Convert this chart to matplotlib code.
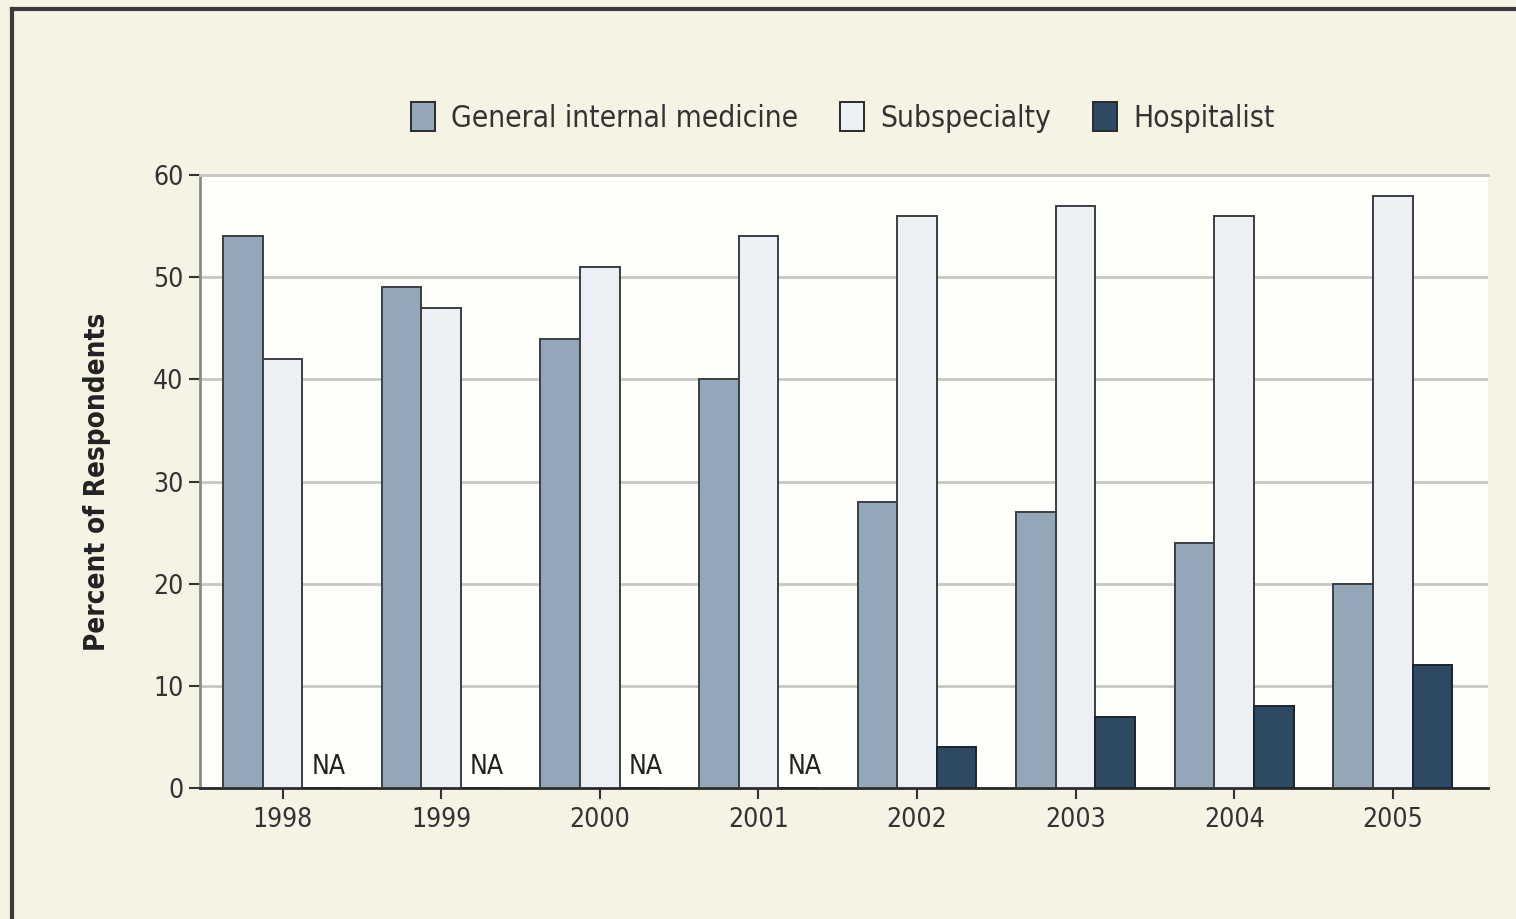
import numpy as np
import matplotlib.pyplot as plt
from matplotlib.lines import Line2D

years = ['1998', '1999', '2000', '2001', '2002', '2003', '2004', '2005']
general = [54, 49, 44, 40, 28, 27, 24, 20]
subspecialty = [42, 47, 51, 54, 56, 57, 56, 58]
hospitalist = [None, None, None, None, 4, 7, 8, 12]

plt.rcParams['font.family'] = ['DejaVu Sans']
plt.rcParams['font.stretch'] = 'condensed'

fig = plt.figure(figsize=(15.16, 9.19), dpi=100)
fig.patch.set_facecolor('#f5f3e4')
ax = fig.add_axes([0.132, 0.1425, 0.8495, 0.667])
ax.set_facecolor('#fefefa')

x = np.arange(len(years))
w = 0.25
ax.bar(x - w, general, w, color='#93a7b8', edgecolor='#3a3f44', linewidth=1.4, label='General internal medicine', zorder=3)
ax.bar(x, subspecialty, w, color='#eceff3', edgecolor='#3a3f44', linewidth=1.4, label='Subspecialty', zorder=3)
hosp_vals = [v if v is not None else 0 for v in hospitalist]
ax.bar(x + w, hosp_vals, w, color='#2e4a62', edgecolor='#1a2530', linewidth=1.4, label='Hospitalist', zorder=3)
for i, v in enumerate(hospitalist):
    if v is None:
        ax.text(x[i] + w + 0.04, 0.8, 'NA', ha='center', va='bottom', fontsize=19, color='#222222', zorder=4)

ax.set_xlim(-0.52, 7.6)
ax.set_ylim(0, 60)
ax.set_yticks(range(0, 61, 10))
ax.set_xticks(x)
ax.set_xticklabels(years)
ax.yaxis.grid(True, color='#c8c8c2', linewidth=2, zorder=0)
ax.tick_params(axis='both', labelsize=19, colors='#333333', length=8, width=1.5, direction='out')
ax.tick_params(axis='y', pad=4)
ax.tick_params(axis='x', pad=6)
ax.spines['right'].set_visible(False)
ax.spines['top'].set_color('#c8c8c2')
ax.spines['top'].set_linewidth(2)
ax.spines['left'].set_color('#8a8a86')
ax.spines['left'].set_linewidth(2)
ax.spines['bottom'].set_color('#2a2a2a')
ax.spines['bottom'].set_linewidth(2)
ax.set_ylabel('Percent of Respondents', fontsize=20, fontweight='bold', color='#222222', labelpad=30)

leg = fig.legend(loc='center', bbox_to_anchor=(0.556, 0.872), ncol=3, frameon=False,
                 fontsize=21.5, handlelength=0.8, handleheight=1.1, columnspacing=1.4, handletextpad=0.55)
for t in leg.get_texts():
    t.set_color('#333333')
for h in leg.legend_handles:
    h.set_edgecolor('#2a2a2a')

# frame lines on the left and top
fig.add_artist(Line2D([0.008, 0.008], [0, 0.99], color='#3a3a3a', linewidth=3, transform=fig.transFigure))
fig.add_artist(Line2D([0.008, 1.0], [0.99, 0.99], color='#3a3a3a', linewidth=3, transform=fig.transFigure))

plt.savefig('out.png', dpi=100, facecolor=fig.get_facecolor())
